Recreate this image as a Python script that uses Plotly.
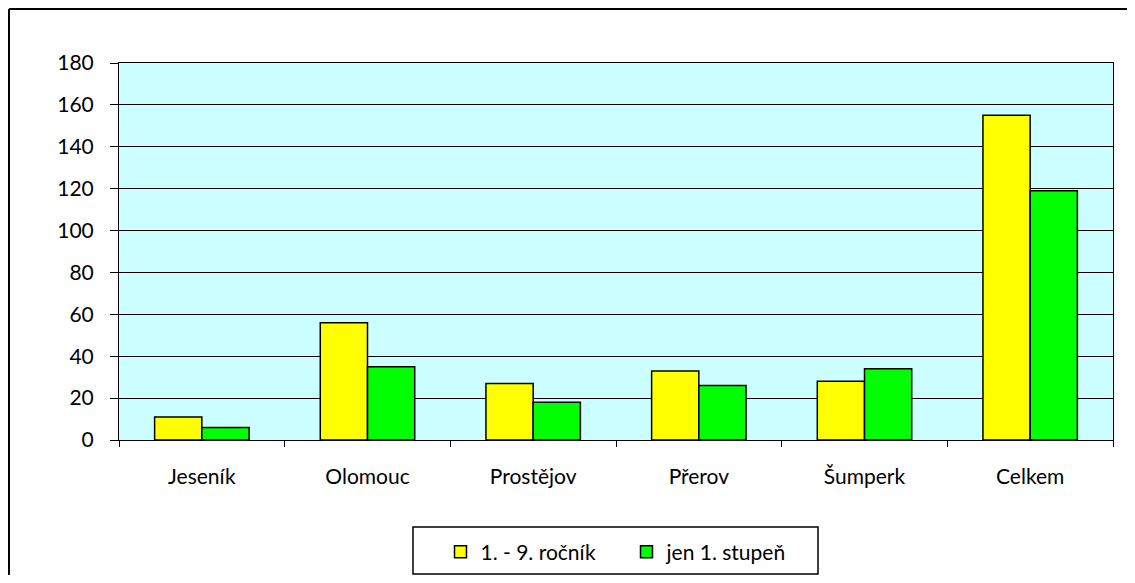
import plotly.graph_objects as go

# Data
okresy = ['Jeseník', 'Olomouc', 'Prostějov', 'Přerov', 'Šumperk', 'Celkem']
rocnik_1_9 = [11, 56, 27, 33, 28, 155]
stupen_1 = [6, 35, 18, 26, 34, 119]

# page body adds 8px margin, so figure is sized to fit inside it (no scrollbars)
W, H = 1119, 567
L, R, T, B = 111, 14, 55, 135
pw, ph = W - L - R, H - T - B


def px_x(x):
    return (x - L) / pw


def px_y(y):
    return (H - B - y) / ph


fig = go.Figure()
fig.add_trace(go.Bar(x=okresy, y=rocnik_1_9, name='1. - 9. ročník',
                     marker=dict(color='#FFFF00', line=dict(color='black', width=1.5))))
fig.add_trace(go.Bar(x=okresy, y=stupen_1, name='jen 1. stupeň',
                     marker=dict(color='#00FF00', line=dict(color='black', width=1.5))))

fig.update_layout(
    width=W, height=H,
    margin=dict(l=L, r=R, t=T, b=B, autoexpand=False),
    paper_bgcolor='white',
    plot_bgcolor='#CCFFFF',
    font=dict(family='Lato, Open Sans, sans-serif', size=21, color='black'),
    barmode='group',
    bargap=0.43,
    bargroupgap=0,
    showlegend=True,
    legend=dict(orientation='h', x=px_x(432.5), xanchor='left', y=px_y(544), yanchor='middle',
                borderwidth=0, bgcolor='rgba(0,0,0,0)',
                font=dict(size=21), itemwidth=30, entrywidth=141),
    xaxis=dict(showgrid=False, showline=True, linecolor='black', linewidth=1,
               mirror=True, ticks='outside', tickson='boundaries', ticklen=6,
               tickcolor='black', ticklabelstandoff=18),
    yaxis=dict(range=[0, 180], dtick=20, showgrid=True, gridcolor='black', gridwidth=1,
               showline=True, linecolor='black', linewidth=1, mirror=True,
               ticks='outside', ticklen=8, tickcolor='black', zeroline=False,
               ticklabelstandoff=12),
)

# legend frame
fig.add_shape(type='rect', xref='paper', yref='paper',
              x0=px_x(405), x1=px_x(810), y0=px_y(566), y1=px_y(519),
              line=dict(color='black', width=1.5), fillcolor='white', layer='below')

# outer chart border: only left and top edges are in view
fig.add_shape(type='line', xref='paper', yref='paper',
              x0=px_x(1), x1=px_x(1), y0=px_y(H), y1=px_y(1),
              line=dict(color='black', width=2))
fig.add_shape(type='line', xref='paper', yref='paper',
              x0=px_x(1), x1=px_x(W), y0=px_y(1), y1=px_y(1),
              line=dict(color='black', width=2))

fig.write_html("out.html")
